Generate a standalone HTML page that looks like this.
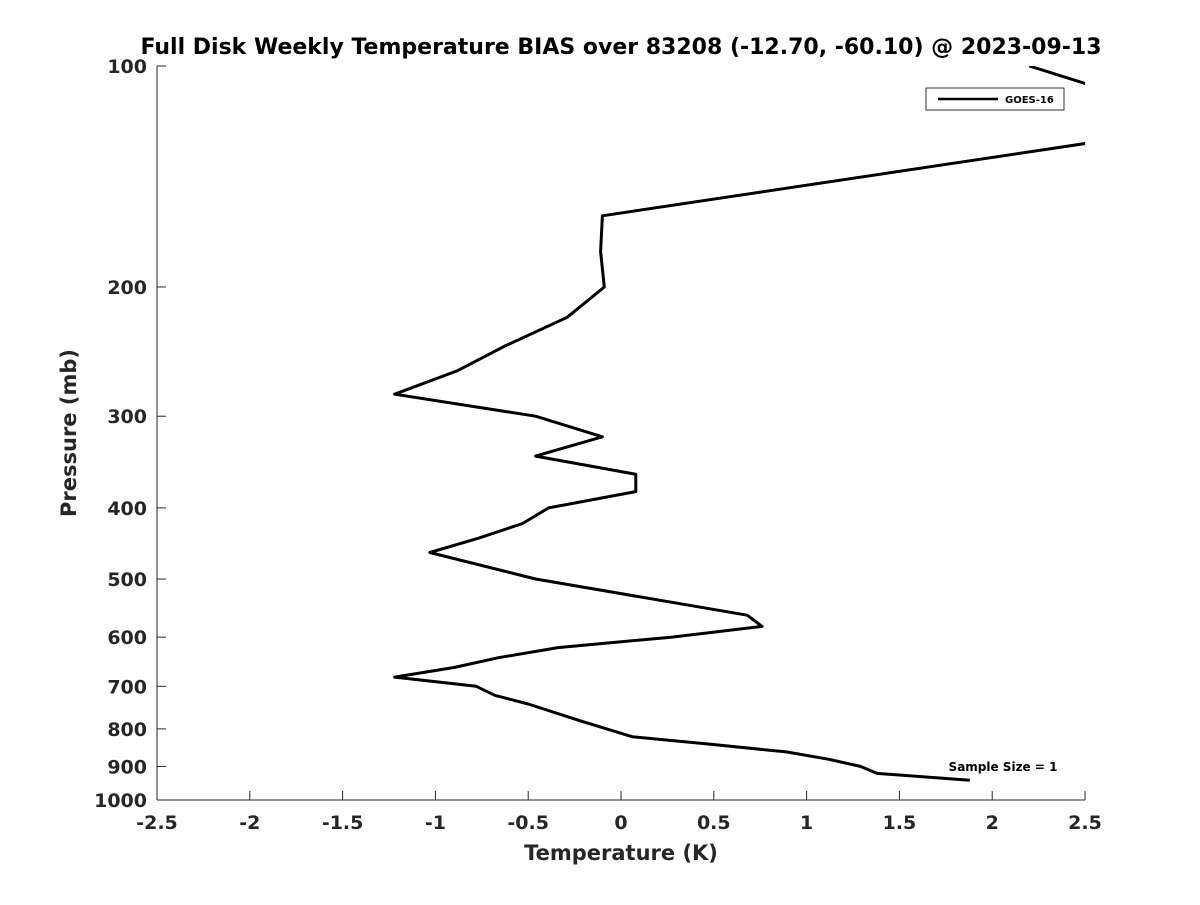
<!DOCTYPE html>
<html><head><meta charset="utf-8"><style>
body{margin:0;background:#fff}
svg text{font-family:"DejaVu Sans","Liberation Sans",sans-serif;font-weight:bold}
</style></head><body>
<svg id="chart" width="1200" height="900" xmlns="http://www.w3.org/2000/svg">
<defs><clipPath id="clip"><rect x="157" y="66" width="928" height="734"/></clipPath></defs>
<rect width="1200" height="900" fill="#fff"/>
<text x="621" y="54" text-anchor="middle" font-size="22" fill="#000">Full Disk Weekly Temperature BIAS over 83208 (-12.70, -60.10) @ 2023-09-13</text>
<g id="axes"></g>
<g id="series" clip-path="url(#clip)"></g>
<g>
<rect x="926" y="88" width="138" height="22" fill="#fff" stroke="#000" stroke-width="0.8"/>
<line x1="938" y1="99" x2="998" y2="99" stroke="#000" stroke-width="2.5"/>
<text x="1005" y="103" font-size="10" fill="#000">GOES-16</text>
</g>
<text x="1003" y="771" text-anchor="middle" font-size="12" fill="#000">Sample Size = 1</text>
<text x="621" y="860" text-anchor="middle" font-size="21" fill="#262626">Temperature (K)</text>
<text transform="translate(76,433) rotate(-90)" text-anchor="middle" font-size="21" fill="#262626">Pressure (mb)</text>
</svg>
<script>
const temps=[2.20,3.20,-0.10,-0.11,-0.09,-0.29,-0.63,-0.88,-1.22,-0.46,-0.10,-0.46,0.08,0.08,-0.39,-0.53,-0.77,-1.03,-0.46,0.68,0.76,0.27,-0.34,-0.66,-0.90,-1.22,-0.78,-0.68,-0.50,-0.22,0.06,0.49,0.89,1.12,1.29,1.38,1.88];
const pressures=[100,120,160,179,200,220,241,260,280,300,320,340,360,380,400,420,440,460,500,560,580,600,620,640,660,680,700,720,740,780,820,840,860,880,900,920,940];
const xTicks=[-2.5,-2,-1.5,-1,-0.5,0,0.5,1,1.5,2,2.5];
const xTickLabels=["-2.5","-2","-1.5","-1","-0.5","0","0.5","1","1.5","2","2.5"];
const yTicks=[100,200,300,400,500,600,700,800,900,1000];
const yTickLabels=["100","200","300","400","500","600","700","800","900","1000"];
const L=157,R=1085,T=66,B=800;
const xs=v=>L+(v+2.5)/5*(R-L);
const ys=p=>T+Math.log10(p/100)*(B-T);
const NS="http://www.w3.org/2000/svg";
const ax=document.getElementById('axes');
function mk(tag,attrs,parent){const e=document.createElementNS(NS,tag);for(const k in attrs)e.setAttribute(k,attrs[k]);parent.appendChild(e);return e;}
const xl=mk('line',{x1:L,y1:B,x2:R,y2:B,stroke:'#262626','stroke-width':1},ax);


const yl=mk('line',{x1:L,y1:T,x2:L,y2:B,stroke:'#262626','stroke-width':1},ax);


xTicks.forEach((v,i)=>{
 const t=mk('line',{x1:xs(v),y1:B,x2:xs(v),y2:B-9,stroke:'#262626'},ax);
 
 
 const tx=mk('text',{x:xs(v),y:B+29,'text-anchor':'middle','font-size':19,fill:'#262626'},ax);
 tx.textContent=xTickLabels[i];
 
 
});
yTicks.forEach((p,i)=>{
 const t=mk('line',{x1:L,y1:ys(p),x2:L+9,y2:ys(p),stroke:'#262626'},ax);
 
 
 const tx=mk('text',{x:147,y:ys(p)+7,'text-anchor':'end','font-size':19,fill:'#262626'},ax);
 tx.textContent=yTickLabels[i];
 
 
});
const pts=temps.map((v,i)=>xs(v).toFixed(1)+','+ys(pressures[i]).toFixed(1)).join(' ');
const pl=mk('polyline',{points:pts,fill:'none',stroke:'#000','stroke-width':3,'stroke-linejoin':'round'},document.getElementById('series'));


</script>
</body></html>
